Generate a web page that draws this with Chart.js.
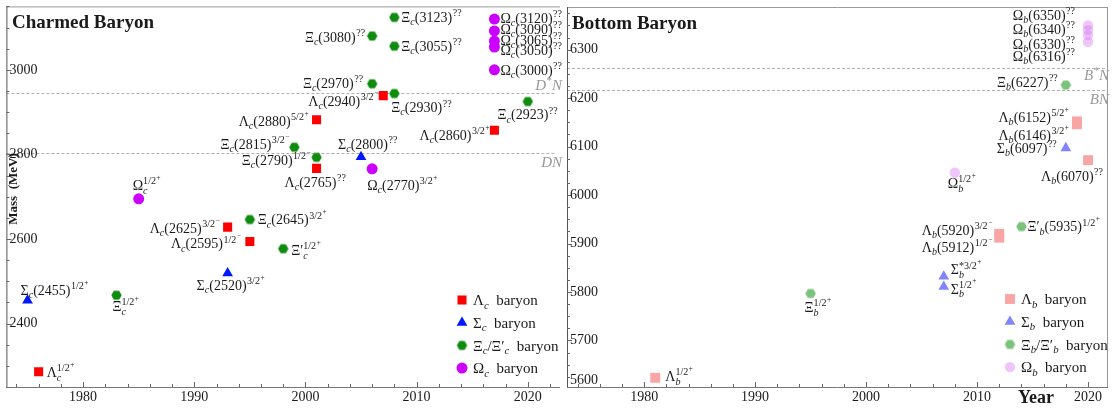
<!DOCTYPE html>
<html>
<head>
<meta charset="utf-8">
<script src="https://cdn.jsdelivr.net/npm/chart.js@4.4.1/dist/chart.umd.min.js"></script>
<style>
  html, body { margin: 0; padding: 0; background: #fff; }
  #wrap { position: relative; width: 1115px; height: 411px; overflow: hidden; }
  canvas { position: absolute; top: 0; }
  #charm { left: 0; }
  #bottom { left: 560px; }
</style>
</head>
<body>
<div id="wrap">
  <canvas id="charm" width="572" height="411"></canvas>
  <canvas id="bottom" width="555" height="411"></canvas>
</div>
<script>
// ---- data: charmed baryons (year of discovery, mass in MeV) ----
const lcYears  = [1976, 1993, 1995, 2001, 2001, 2007, 2017];
const lcMasses = [2286, 2628, 2594, 2767, 2882, 2939, 2857];
const lcNames  = ['Λ_c^{1/2^{+}}', 'Λ_c(2625)^{3/2^{−}}', 'Λ_c(2595)^{1/2^{−}}', 'Λ_c(2765)^{??}',
                  'Λ_c(2880)^{5/2^{+}}', 'Λ_c(2940)^{3/2^{−}}', 'Λ_c(2860)^{3/2^{+}}'];

const scYears  = [1975, 1993, 2005];
const scMasses = [2455, 2519, 2794];
const scNames  = ['Σ_c(2455)^{1/2^{+}}', 'Σ_c(2520)^{3/2^{+}}', 'Σ_c(2800)^{??}'];

const xcYears  = [1983, 1995, 1998, 1999, 2001, 2006, 2006, 2008, 2008, 2008, 2020];
const xcMasses = [2467, 2646, 2577, 2817, 2793, 2967, 3080, 3124, 3056, 2944, 2925];
const xcNames  = ['Ξ_c^{1/2^{+}}', 'Ξ_c(2645)^{3/2^{+}}', 'Ξ′_c^{1/2^{+}}', 'Ξ_c(2815)^{3/2^{−}}',
                  'Ξ_c(2790)^{1/2^{−}}', 'Ξ_c(2970)^{??}', 'Ξ_c(3080)^{??}', 'Ξ_c(3123)^{??}',
                  'Ξ_c(3055)^{??}', 'Ξ_c(2930)^{??}', 'Ξ_c(2923)^{??}'];

const ocYears  = [1985, 2006, 2017, 2017, 2017, 2017, 2017];
const ocMasses = [2695, 2766, 3000, 3054, 3068, 3092, 3120];
const ocNames  = ['Ω_c^{1/2^{+}}', 'Ω_c(2770)^{3/2^{+}}', 'Ω_c(3000)^{??}', 'Ω_c(3050)^{??}',
                  'Ω_c(3065)^{??}', 'Ω_c(3090)^{??}', 'Ω_c(3120)^{??}'];

const charmThresholds     = [2945, 2803];
const charmThresholdNames = ['D^{*}N', 'DN'];
const charmMassTicks      = [2400, 2600, 2800, 3000];

// ---- data: bottom baryons ----
const lbYears  = [1981, 2012, 2012, 2019, 2019, 2020];
const lbMasses = [5623, 5920, 5912, 6152, 6146, 6072];
const lbNames  = ['Λ_b^{1/2^{+}}', 'Λ_b(5920)^{3/2^{−}}', 'Λ_b(5912)^{1/2^{−}}',
                  'Λ_b(6152)^{5/2^{+}}', 'Λ_b(6146)^{3/2^{+}}', 'Λ_b(6070)^{??}'];

const sbYears  = [2007, 2007, 2018];
const sbMasses = [5811, 5832, 6097];
const sbNames  = ['Σ_b^{1/2^{+}}', 'Σ_b^{*3/2^{+}}', 'Σ_b(6097)^{??}'];

const xbYears  = [1995, 2014, 2018];
const xbMasses = [5797, 5935, 6227];
const xbNames  = ['Ξ_b^{1/2^{+}}', 'Ξ′_b(5935)^{1/2^{+}}', 'Ξ_b(6227)^{??}'];

const obYears  = [2008, 2020, 2020, 2020, 2020];
const obMasses = [6046, 6316, 6330, 6340, 6350];
const obNames  = ['Ω_b^{1/2^{+}}', 'Ω_b(6316)^{??}', 'Ω_b(6330)^{??}', 'Ω_b(6340)^{??}', 'Ω_b(6350)^{??}'];

const bottomThresholds     = [6263, 6217];
const bottomThresholdNames = ['B^{*}N', 'BN'];
const bottomMassTicks      = [5600, 5700, 5800, 5900, 6000, 6100, 6200, 6300];

const yearTicks = [1980, 1990, 2000, 2010, 2020];

// ---- label placement (pixel offset from the marker, anchor side) ----
const lcLabelAt = [[8, 0, 'l'], [-8, 1, 'r'], [-9, 2, 'r'], [-32, 14, 'l'], [-8, 1, 'r'], [-5, 5, 'r'], [-5, 5, 'r']];
const scLabelAt = [[-7, -10, 'l'], [-31, 12, 'l'], [-23, -13, 'l']];
const xcLabelAt = [[-4, 11, 'l'], [8, 0, 'l'], [8, 1, 'l'], [-5, -3, 'r'], [-6, 3, 'r'], [-9, -1, 'r'],
                   [-7, 1, 'r'], [7, 0, 'l'], [7, 0, 'l'], [-3, 14, 'l'], [30, 13, 'r']];
const ocLabelAt = [[-6, -14, 'l'], [-5, 16, 'l'], [6, 0, 'l'], [6, 3, 'l'], [6, -1, 'l'], [6, -2, 'l'], [6, -1, 'l']];

const lbLabelAt = [[10, -2, 'l'], [-7, -4, 'r'], [-7, 9, 'r'], [-8, -4, 'r'], [-8, 11, 'r'], [15, 16, 'r']];
const sbLabelAt = [[7, 2, 'l'], [7, -7, 'l'], [-9, 0, 'r']];
const xbLabelAt = [[-6, 14, 'l'], [6, 0, 'l'], [-8, -3, 'r']];
const obLabelAt = [[-7, 10, 'l'], [-13, 14, 'r'], [-13, 9, 'r'], [-13, -1, 'r'], [-13, -10, 'r']];

const SERIF = "'Liberation Serif', 'DejaVu Serif', serif";
const INK = '#1a1a1a';

// ---- tiny TeX-like text: _x / _{..} subscript, ^{..} superscript ----
function parseRich(s) {
  let i = 0;
  function group() {
    if (s[i] === '{') { i++; const g = seq('}'); i++; return g; }
    return [{ t: 'text', v: s[i++] }];
  }
  function seq(end) {
    const out = [];
    let buf = '';
    while (i < s.length && s[i] !== end) {
      const c = s[i];
      if (c === '_' || c === '^') {
        if (buf) { out.push({ t: 'text', v: buf }); buf = ''; }
        i++;
        out.push({ t: c === '_' ? 'sub' : 'sup', v: group() });
      } else { buf += c; i++; }
    }
    if (buf) out.push({ t: 'text', v: buf });
    return out;
  }
  return seq(null);
}

function runRich(ctx, nodes, x, y, size, style, weight, draw) {
  let cx = x;
  for (let k = 0; k < nodes.length; k++) {
    const n = nodes[k];
    if (n.t === 'text') {
      ctx.font = `${style} ${weight} ${size}px ${SERIF}`;
      if (draw) ctx.fillText(n.v, cx, y);
      cx += ctx.measureText(n.v).width;
      continue;
    }
    const s2 = size * 0.72;
    const next = nodes[k + 1];
    if (n.t === 'sub' && next && next.t === 'sup') {
      const w1 = runRich(ctx, n.v, cx, y + size * 0.28, s2, 'italic', weight, draw);
      const w2 = runRich(ctx, next.v, cx, y - size * 0.42, s2, 'normal', weight, draw);
      cx += Math.max(w1, w2);
      k++;
    } else if (n.t === 'sub') {
      cx += runRich(ctx, n.v, cx, y + size * 0.22, s2, 'italic', weight, draw);
    } else {
      cx += runRich(ctx, n.v, cx + 0.5, y - size * 0.42, s2, 'normal', weight, draw) + 0.5;
    }
  }
  return cx - x;
}

function richText(ctx, str, x, y, size, align, opts) {
  const nodes = parseRich(str);
  const style = opts.style || 'normal';
  const weight = opts.weight || 'normal';
  ctx.textAlign = 'left';
  ctx.textBaseline = 'alphabetic';
  const w = runRich(ctx, nodes, 0, 0, size, style, weight, false);
  const x0 = align === 'r' ? x - w : align === 'c' ? x - w / 2 : x;
  ctx.fillStyle = opts.color || INK;
  runRich(ctx, nodes, x0, y + size * 0.35, size, style, weight, true);
}

function hexImage(color, r) {
  const c = document.createElement('canvas');
  const w = Math.ceil(2 * r) + 2, h = Math.ceil(Math.sqrt(3) * r) + 2;
  c.width = w; c.height = h;
  const g = c.getContext('2d');
  g.fillStyle = color;
  g.beginPath();
  for (let k = 0; k < 6; k++) {
    const t = k * Math.PI / 3;
    const px = w / 2 + r * Math.cos(t), py = h / 2 + r * Math.sin(t);
    if (k) g.lineTo(px, py); else g.moveTo(px, py);
  }
  g.closePath();
  g.fill();
  return c;
}

function series(label, years, masses, names, at, style, radius, color) {
  return {
    label,
    data: years.map((x, i) => ({ x, y: masses[i] })),
    names, at,
    pointStyle: style,
    pointRadius: radius,
    pointHoverRadius: radius,
    backgroundColor: color,
    pointBackgroundColor: color,
    borderWidth: 0,
    pointBorderWidth: 0
  };
}

function drawMarker(ctx, ds, x, y) {
  ctx.fillStyle = ds.pointBackgroundColor;
  if (Chart.helpers && Chart.helpers.drawPoint) {
    Chart.helpers.drawPoint(ctx, { pointStyle: ds.pointStyle, radius: ds.pointRadius, rotation: 0, borderWidth: 0 }, x, y);
  } else {
    ctx.beginPath(); ctx.arc(x, y, ds.pointRadius, 0, Math.PI * 2); ctx.fill();
  }
}

function panelPlugin(p) {
  return {
    id: 'panel',
    beforeDatasetsDraw(chart) {
      const { ctx, chartArea: a, scales: { x, y } } = chart;
      ctx.save();

      // threshold lines
      ctx.lineWidth = 1;
      ctx.strokeStyle = '#b0b0b0';
      ctx.setLineDash([3, 2]);
      p.thresholds.forEach((m) => {
        const py = Math.round(y.getPixelForValue(m)) + 0.5;
        ctx.beginPath(); ctx.moveTo(a.left, py); ctx.lineTo(a.right - p.dashInset, py); ctx.stroke();
      });
      ctx.setLineDash([]);
      p.thresholds.forEach((m, i) => {
        richText(ctx, p.thresholdNames[i], p.thrRight, y.getPixelForValue(m) + p.thrDy[i], 15, 'r',
          { style: 'italic', color: '#999' });
      });

      // frame
      ctx.strokeStyle = '#999';
      ctx.beginPath(); ctx.moveTo(a.left, a.top + 0.5); ctx.lineTo(a.right, a.top + 0.5); ctx.stroke();
      if (p.rightBorder) {
        ctx.beginPath(); ctx.moveTo(a.right - 0.5, a.top); ctx.lineTo(a.right - 0.5, a.bottom); ctx.stroke();
      }
      ctx.strokeStyle = '#555';
      ctx.beginPath(); ctx.moveTo(a.left + 0.5, a.top); ctx.lineTo(a.left + 0.5, a.bottom + 1); ctx.stroke();
      ctx.strokeStyle = '#777';
      ctx.beginPath(); ctx.moveTo(a.left, a.bottom + 0.5); ctx.lineTo(a.right, a.bottom + 0.5); ctx.stroke();

      // inward tick marks
      ctx.strokeStyle = '#666';
      for (let m = Math.ceil(p.yMin / p.yMinor) * p.yMinor; m <= p.yMax; m += p.yMinor) {
        const py = Math.round(y.getPixelForValue(m)) + 0.5;
        const len = p.yTicks.includes(m) ? 5 : 3;
        ctx.beginPath(); ctx.moveTo(a.left, py); ctx.lineTo(a.left + len, py); ctx.stroke();
      }
      for (let yr = Math.ceil(p.xMin / 2) * 2; yr <= p.xMax; yr += 2) {
        const px = Math.round(x.getPixelForValue(yr)) + 0.5;
        const len = yr % 10 === 0 ? 5 : 3;
        ctx.beginPath(); ctx.moveTo(px, a.bottom); ctx.lineTo(px, a.bottom - len); ctx.stroke();
      }

      // tick labels
      ctx.fillStyle = INK;
      ctx.font = `14px ${SERIF}`;
      ctx.textBaseline = 'middle';
      ctx.textAlign = 'left';
      p.yTicks.forEach((m) => {
        const py = Math.max(a.top + 8, Math.min(a.bottom - 7, y.getPixelForValue(m)));
        ctx.fillText(String(m), a.left + 3, py);
      });
      ctx.textAlign = 'center';
      yearTicks.forEach((yr) => {
        ctx.fillText(String(yr), x.getPixelForValue(yr), a.bottom + 10);
      });

      // titles
      ctx.textAlign = 'left';
      ctx.font = `bold 19px ${SERIF}`;
      ctx.fillText(p.title, p.titleAt[0], p.titleAt[1]);
      if (p.massTitle) {
        ctx.save();
        ctx.translate(14, 189);
        ctx.rotate(-Math.PI / 2);
        ctx.textAlign = 'center';
        ctx.font = `bold 13px ${SERIF}`;
        ctx.fillText('Mass  (MeV)', 0, 0);
        ctx.restore();
      }
      if (p.yearAt) {
        ctx.textAlign = 'center';
        ctx.font = `bold 18px ${SERIF}`;
        ctx.fillText('Year', p.yearAt[0], p.yearAt[1]);
      }
      ctx.restore();
    },
    afterDatasetsDraw(chart) {
      const { ctx } = chart;
      ctx.save();
      chart.data.datasets.forEach((ds, di) => {
        const meta = chart.getDatasetMeta(di);
        meta.data.forEach((pt, i) => {
          const [dx, dy, side] = ds.at[i];
          richText(ctx, ds.names[i], pt.x + dx, pt.y + dy, 14, side, { color: INK });
        });
        // legend
        const ly = p.legendAt[1] + di * p.legendStep;
        drawMarker(ctx, ds, p.legendAt[0], ly);
        richText(ctx, ds.label, p.legendAt[0] + 11, ly, 15, 'l', { color: INK });
      });
      ctx.restore();
    }
  };
}

function makePanel(p) {
  return new Chart(document.getElementById(p.canvas), {
    type: 'scatter',
    data: { datasets: p.datasets },
    options: {
      responsive: false,
      animation: false,
      devicePixelRatio: 1,
      layout: { padding: p.padding },
      scales: {
        x: { type: 'linear', min: p.xMin, max: p.xMax, display: false },
        y: { type: 'linear', min: p.yMin, max: p.yMax, display: false }
      },
      plugins: { legend: { display: false }, tooltip: { enabled: false } }
    },
    plugins: [panelPlugin(p)]
  });
}

const GREEN = '#0f8c0f';
makePanel({
  canvas: 'charm',
  padding: { left: 5, right: 12, top: 3, bottom: 24 },
  xMin: 1973.1, xMax: 2022.9, yMin: 2250, yMax: 3150,
  yTicks: charmMassTicks, yMinor: 50,
  title: 'Charmed Baryon', titleAt: [12, 23],
  thresholds: charmThresholds, thresholdNames: charmThresholdNames,
  thrDy: [-8, 9], thrRight: 562, dashInset: 4,
  legendAt: [462, 300], legendStep: 22.7,
  rightBorder: false, massTitle: true, yearAt: null,
  datasets: [
    series('Λ_c  baryon', lcYears, lcMasses, lcNames, lcLabelAt, 'rect', 6.4, '#ff0000'),
    series('Σ_c  baryon', scYears, scMasses, scNames, scLabelAt, 'triangle', 6.2, '#0018ff'),
    series('Ξ_c/Ξ′_c  baryon', xcYears, xcMasses, xcNames, xcLabelAt, hexImage(GREEN, 5.2), 5.5, GREEN),
    series('Ω_c  baryon', ocYears, ocMasses, ocNames, ocLabelAt, 'circle', 5.5, '#cc00ff')
  ]
});

const LGREEN = '#7cc27c';
makePanel({
  canvas: 'bottom',
  padding: { left: 4, right: 4, top: 3, bottom: 24 },
  xMin: 1973.05, xMax: 2021.8, yMin: 5604, yMax: 6388,
  yTicks: bottomMassTicks, yMinor: 25,
  title: 'Bottom Baryon', titleAt: [12, 24],
  thresholds: bottomThresholds, thresholdNames: bottomThresholdNames,
  thrDy: [7, 9], thrRight: 549, dashInset: 0,
  legendAt: [450, 299], legendStep: 22.7,
  rightBorder: true, massTitle: false, yearAt: [476, 398],
  datasets: [
    series('Λ_b  baryon', lbYears, lbMasses, lbNames, lbLabelAt, 'rect', 7, '#f9a5a5'),
    series('Σ_b  baryon', sbYears, sbMasses, sbNames, sbLabelAt, 'triangle', 6.2, '#8383ff'),
    series('Ξ_b/Ξ′_b  baryon', xbYears, xbMasses, xbNames, xbLabelAt, hexImage(LGREEN, 5.3), 5.5, LGREEN),
    series('Ω_b  baryon', obYears, obMasses, obNames, obLabelAt, 'circle', 5.2, 'rgba(215, 120, 245, 0.42)')
  ]
});
</script>
</body>
</html>
